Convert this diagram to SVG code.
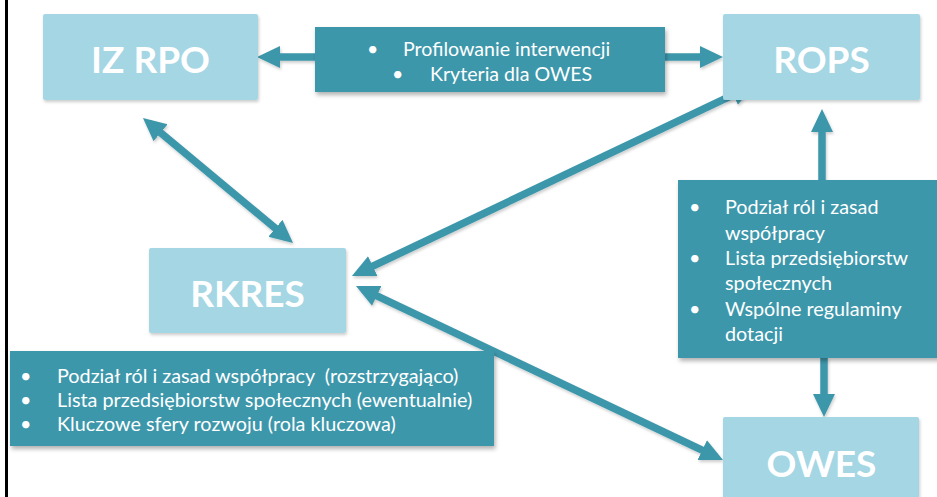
<svg xmlns="http://www.w3.org/2000/svg" width="937" height="497" viewBox="0 0 937 497">
<style>
.node{fill:#A5D6E4}
.note{fill:#3E97AB}
.title{font-family:Lato,"Liberation Sans",sans-serif;font-weight:bold;font-size:37px;fill:#FFFFFF;text-anchor:middle}
.txt{font-family:Lato,"Liberation Sans",sans-serif;font-size:19.8px;fill:#FFFFFF;white-space:pre}
.mid{font-family:Lato,"Liberation Sans",sans-serif;font-size:19.6px;fill:#FFFFFF}
.conn{stroke:#3E97AB;stroke-width:7.5;fill:none}
</style>
<defs>
<filter id="sh" x="-10%" y="-10%" width="130%" height="140%">
<feDropShadow dx="1.5" dy="3" stdDeviation="2" flood-color="#000" flood-opacity="0.3"/>
</filter>
<filter id="sh2" x="-10%" y="-10%" width="130%" height="140%">
<feDropShadow dx="1" dy="2" stdDeviation="1.5" flood-color="#000" flood-opacity="0.2"/>
</filter>
<marker id="ah" viewBox="0 0 24 24" markerWidth="24" markerHeight="24" markerUnits="userSpaceOnUse" refX="15" refY="12" orient="auto-start-reverse">
<path d="M0,1 L23,12 L0,23 Z" fill="#3E97AB"/>
</marker>
</defs>
<rect x="5" y="0" width="3" height="497" fill="#000"/>
<g id="connectors" filter="url(#sh2)">
<line class="conn" x1="149.1" y1="123.1" x2="286.9" y2="237.9" marker-start="url(#ah)" marker-end="url(#ah)"/>
<line class="conn" x1="746.8" y1="88.4" x2="359.2" y2="272.6" marker-start="url(#ah)" marker-end="url(#ah)"/>
<line class="conn" x1="363.2" y1="289.4" x2="715.8" y2="456.6" marker-start="url(#ah)" marker-end="url(#ah)"/>
<line class="conn" x1="316" y1="57" x2="265" y2="57" marker-end="url(#ah)"/>
<line class="conn" x1="664" y1="57" x2="715" y2="57" marker-end="url(#ah)"/>
<line class="conn" x1="822" y1="181" x2="822" y2="117" marker-end="url(#ah)"/>
<line class="conn" x1="824" y1="357" x2="824" y2="409" marker-end="url(#ah)"/>
</g>
<g id="iz-rpo">
<rect class="node" x="43" y="14" width="215" height="86" rx="2" filter="url(#sh2)"/>
<text class="title" x="150.5" y="73">IZ RPO</text>
</g>
<g id="rops">
<rect class="node" x="723" y="14" width="197" height="86" rx="2" filter="url(#sh2)"/>
<text class="title" x="821.5" y="73">ROPS</text>
</g>
<g id="rkres">
<rect class="node" x="149" y="248" width="197" height="85" rx="2" filter="url(#sh2)"/>
<text class="title" x="247.5" y="307">RKRES</text>
</g>
<g id="owes">
<rect class="node" x="723" y="417" width="196" height="90" rx="2" filter="url(#sh2)"/>
<text class="title" x="821.5" y="477">OWES</text>
</g>
<g id="note-top">
<rect class="note" x="315" y="27" width="350" height="65" filter="url(#sh)"/>
<text class="mid" x="367" y="56">•</text>
<text class="mid" x="403" y="56">Profilowanie interwencji</text>
<text class="mid" x="392" y="81">•</text>
<text class="mid" x="430" y="81">Kryteria dla OWES</text>
</g>
<g id="note-right">
<rect class="note" x="678" y="180" width="262" height="178" filter="url(#sh)"/>
<text class="txt" x="689" y="214">•</text>
<text class="txt" x="725" y="214">Podział ról i zasad</text>
<text class="txt" x="725" y="239.5">współpracy</text>
<text class="txt" x="689" y="265">•</text>
<text class="txt" x="725" y="265">Lista przedsiębiorstw</text>
<text class="txt" x="725" y="290">społecznych</text>
<text class="txt" x="689" y="315.5">•</text>
<text class="txt" x="725" y="315.5">Wspólne regulaminy</text>
<text class="txt" x="725" y="341">dotacji</text>
</g>
<g id="note-left">
<rect class="note" x="10" y="351" width="484" height="95" filter="url(#sh)"/>
<text class="txt" x="20" y="383">•</text>
<text class="txt" x="57" y="383" xml:space="preserve">Podział ról i zasad współpracy  (rozstrzygająco)</text>
<text class="txt" x="20" y="407">•</text>
<text class="txt" x="57" y="407">Lista przedsiębiorstw społecznych (ewentualnie)</text>
<text class="txt" x="20" y="431">•</text>
<text class="txt" x="57" y="431">Kluczowe sfery rozwoju (rola kluczowa)</text>
</g>
</svg>
